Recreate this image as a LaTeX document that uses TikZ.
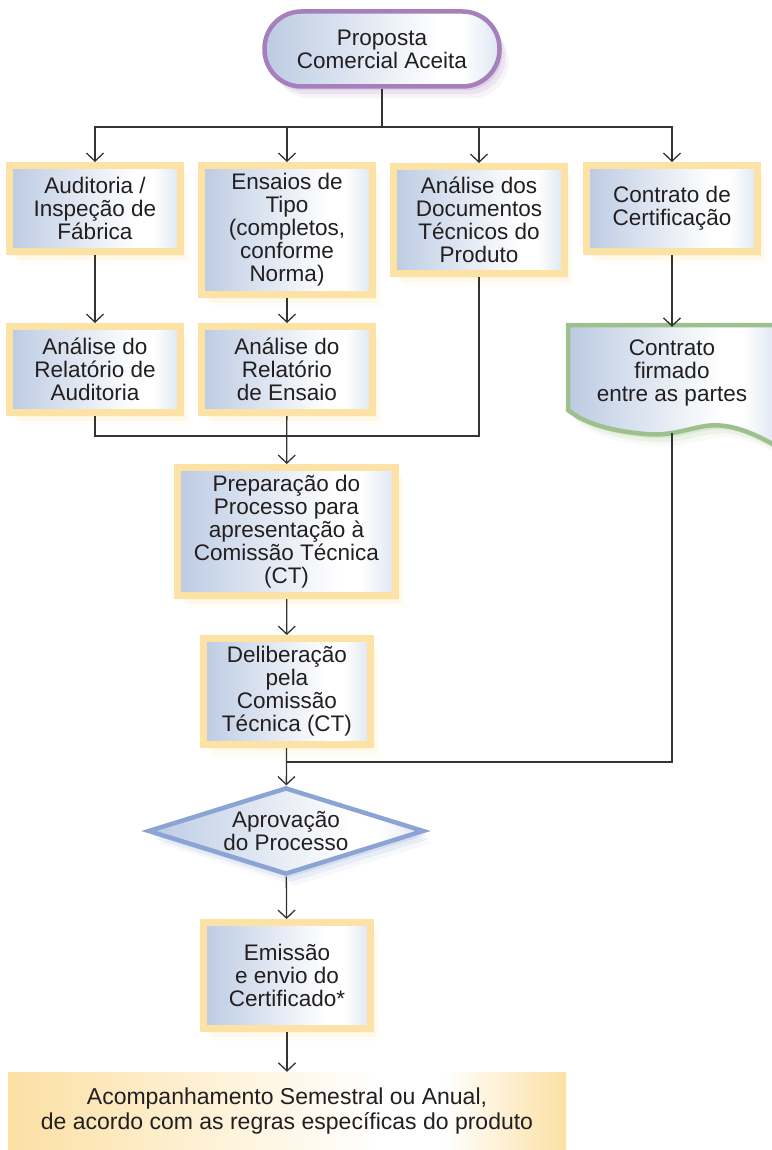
\documentclass[tikz,border=0pt]{standalone}
\usepackage{fontspec}
\setmainfont{Liberation Sans}
\usetikzlibrary{arrows.meta,shapes.geometric,shadows}

\definecolor{boxedge}{RGB}{253,226,165}
\definecolor{boxblue}{RGB}{188,203,227}
\definecolor{boxlight}{RGB}{222,230,242}
\definecolor{propedge}{RGB}{166,128,188}
\definecolor{docedge}{RGB}{157,192,140}
\definecolor{diaedge}{RGB}{139,164,212}
\definecolor{endfill}{RGB}{252,224,164}
\definecolor{ink}{RGB}{35,31,32}
\definecolor{wire}{RGB}{51,51,51}

\pgfdeclarehorizontalshading{boxshade}{100bp}{color(0bp)=(boxblue); color(25bp)=(boxblue); color(62bp)=(white); color(67bp)=(white); color(75bp)=(boxlight); color(100bp)=(boxlight)}
\pgfdeclarehorizontalshading{endshade}{100bp}{color(0bp)=(endfill); color(25bp)=(endfill); color(58bp)=(white); color(64bp)=(white); color(75bp)=(endfill); color(100bp)=(endfill)}

\tikzset{
	glow/.style={
		drop shadow={shadow xshift=9pt, shadow yshift=-12pt, fill=#1, opacity=.08},
		drop shadow={shadow xshift=6pt, shadow yshift=-8pt, fill=#1, opacity=.14},
		drop shadow={shadow xshift=3pt, shadow yshift=-4pt, fill=#1, opacity=.2}}
}

\begin{document}
\begin{tikzpicture}[x=1pt,y=-1pt,
	txt/.style={font=\fontsize{22.5}{23}\selectfont, text=ink, align=center, inner sep=0pt},
	box/.style={txt, draw=boxedge, line width=7pt, shading=boxshade, minimum width=171pt, glow=boxedge},
	prop/.style={txt, draw=propedge, line width=4.5pt, shading=boxshade, rounded corners=37pt,
		minimum width=235pt, minimum height=75pt, glow=propedge},
	dia/.style={txt, diamond, aspect=3.1, draw=diaedge, line width=4.5pt, shading=boxshade,
		minimum width=276pt, minimum height=87pt, glow=diaedge},
	endbox/.style={txt, shading=endshade, minimum width=558pt, minimum height=78pt,
		font=\fontsize{23}{25}\selectfont},
	wireline/.style={draw=wire, line width=1.3pt},
	wirearrow/.style={wireline, -{Straight Barb[length=8pt,width=17pt]}}]

	\useasboundingbox (0,0) rectangle (771,1150);

	\node[prop] (prop) at (382,49) {Proposta\\Comercial Aceita};

	\node[box, minimum height=86pt] (aud) at (95,208.5) {Auditoria /\\Inspeção de\\Fábrica};
	\node[box, minimum height=129pt] (ens) at (287,230) {Ensaios de\\Tipo\\(completos,\\conforme\\Norma)};
	\node[box, minimum height=107pt] (doc) at (479,220) {Análise dos\\Documentos\\Técnicos do\\Produto};
	\node[box, minimum height=86pt] (con) at (672,208.5) {Contrato de\\Certificação};

	\node[box, minimum height=86pt] (ara) at (95,369.5) {Análise do\\Relatório de\\Auditoria};
	\node[box, minimum height=86pt] (are) at (287,369.5) {Análise do\\Relatório\\de Ensaio};

	\draw[draw=docedge, line width=4.5pt, shading=boxshade, glow=docedge]
		(568,325) -- (776,325) -- (776,446)
		.. controls (745,428) and (722,422) .. (700,427)
		.. controls (680,431) and (668,436) .. (645,434)
		.. controls (612,431) and (585,424) .. (568,410) -- cycle;
	\node[txt, minimum height=92pt] (cfp) at (672,373) {Contrato\\firmado\\entre as partes};
	\coordinate (cfpend) at (672,433);

	\node[box, minimum width=218pt, minimum height=128pt] (prep) at (286.5,531.5) {Preparação do\\Processo para\\apresentação à\\Comissão Técnica\\(CT)};
	\node[box, minimum width=167pt, minimum height=106pt] (del) at (287,691.5) {Deliberação\\pela\\Comissão\\Técnica (CT)};
	\node[dia] (apr) at (286,831) {Aprovação\\do Processo};
	\node[box, minimum width=167pt, minimum height=106pt] (emi) at (287,975.5) {Emissão\\e envio do\\Certificado*};
	\node[endbox] (acomp) at (287,1111) {Acompanhamento Semestral ou Anual,\\de acordo com as regras específicas do produto};

	\coordinate (split) at (382,127);
	\draw[wireline] (prop) -- (split);
	\foreach \n in {aud,ens,doc,con}
		\draw[wirearrow] (split) -| (\n);

	\draw[wirearrow] (aud) -- (ara);
	\draw[wirearrow] (ens) -- (are);
	\draw[wirearrow] (con) -- (cfp);

	\coordinate (join1) at (287,436);
	\draw[wireline] (ara) |- (join1);
	\draw[wireline] (doc) |- (join1);
	\draw[wirearrow] (are) -- (prep);
	\draw[wirearrow] (prep) -- (del);

	\coordinate (join2) at (287,762);
	\draw[wireline] (cfpend) |- (join2);
	\draw[wirearrow] (del) -- (apr);
	\draw[wirearrow] (apr) -- (emi);
	\draw[wirearrow] (emi) -- (acomp);
\end{tikzpicture}
\end{document}
